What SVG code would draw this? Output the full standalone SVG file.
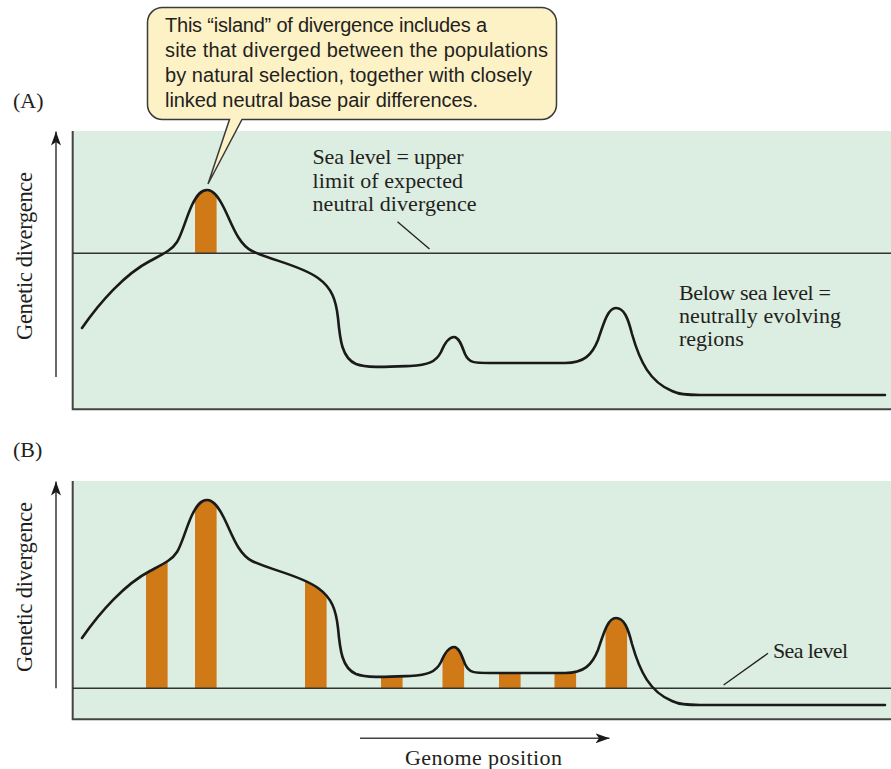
<svg xmlns="http://www.w3.org/2000/svg" width="891" height="769" viewBox="0 0 891 769">
<style>
.bg{fill:#dcede1}
.frame{fill:none;stroke:#444;stroke-width:2}
.sea{stroke:#333;stroke-width:1.5;fill:none}
.curve{fill:none;stroke:#1a1a1a;stroke-width:2.6;stroke-linejoin:round;stroke-linecap:round}
.bar{fill:#cf7a16}
.serif{font-family:"Liberation Serif","Times New Roman",serif;font-size:22px;fill:#231f20}
.sans{font-family:"Liberation Sans",Arial,sans-serif;font-size:20px;fill:#231f20}
.lead{stroke:#231f20;stroke-width:1.3;fill:none}
.axis{stroke:#444;stroke-width:1.6;fill:none}
</style>
<defs>
<marker id="ah" viewBox="0 0 14 10" refX="14" refY="5" markerWidth="14" markerHeight="10" markerUnits="userSpaceOnUse" orient="auto">
<path d="M0,0 L14,5 L0,10 L3.5,5 Z" fill="#1a1a1a"/>
</marker>
<path id="crv" d="M 82,328 C 100,302 125,274 150,261 C 163,254 172,250 177,242 C 182,234 186,218 192,205 C 197,195 201,190 207,190 C 214,190 219,198 224,208 C 232,224 238,244 252,251 C 270,260 300,265 318,278 C 332,288 336,300 338,318 C 340,340 342,358 356,364 C 366,368 385,367 410,366 C 428,365 436,362 441,352 C 446,340 450,337 454,337 C 459,337 462,346 465,354 C 469,363 474,363 490,363 L 565,363 C 584,363 592,355 598,340 C 604,322 608,308 616,308 C 624,308 628,318 632,334 C 640,362 650,382 672,391 C 680,395 690,395 700,395 L 885,395"/>
<clipPath id="underA">
<path d="M 82,328 C 100,302 125,274 150,261 C 163,254 172,250 177,242 C 182,234 186,218 192,205 C 197,195 201,190 207,190 C 214,190 219,198 224,208 C 232,224 238,244 252,251 C 270,260 300,265 318,278 C 332,288 336,300 338,318 C 340,340 342,358 356,364 C 366,368 385,367 410,366 C 428,365 436,362 441,352 C 446,340 450,337 454,337 C 459,337 462,346 465,354 C 469,363 474,363 490,363 L 565,363 C 584,363 592,355 598,340 C 604,322 608,308 616,308 C 624,308 628,318 632,334 C 640,362 650,382 672,391 C 680,395 690,395 700,395 L 885,395 L 885,420 L 82,420 Z"/>
</clipPath>
<clipPath id="underB">
<path transform="translate(0,310)" d="M 82,328 C 100,302 125,274 150,261 C 163,254 172,250 177,242 C 182,234 186,218 192,205 C 197,195 201,190 207,190 C 214,190 219,198 224,208 C 232,224 238,244 252,251 C 270,260 300,265 318,278 C 332,288 336,300 338,318 C 340,340 342,358 356,364 C 366,368 385,367 410,366 C 428,365 436,362 441,352 C 446,340 450,337 454,337 C 459,337 462,346 465,354 C 469,363 474,363 490,363 L 565,363 C 584,363 592,355 598,340 C 604,322 608,308 616,308 C 624,308 628,318 632,334 C 640,362 650,382 672,391 C 680,395 690,395 700,395 L 885,395 L 885,420 L 82,420 Z"/>
</clipPath>
</defs>

<g id="panelA">
<rect class="bg" x="72.7" y="131" width="818.3" height="278.3"/>
<path class="frame" d="M72.7,131 V409.3 H891"/>
<g clip-path="url(#underA)">
<rect class="bar" x="195" y="150" width="21.6" height="103.3"/>
</g>
<line class="sea" x1="72.7" y1="253.3" x2="891" y2="253.3"/>
<use href="#crv" class="curve"/>
<text class="serif" x="13" y="108">(A)</text>
<text class="serif" style="font-size:22.5px" text-anchor="middle" transform="translate(32,256) rotate(-90)" textLength="168" lengthAdjust="spacing">Genetic divergence</text>
<text class="serif" x="312.5" y="164" textLength="151" lengthAdjust="spacing">Sea level = upper</text>
<text class="serif" x="312.5" y="187.5" textLength="150.5" lengthAdjust="spacing">limit of expected</text>
<text class="serif" x="312.5" y="211" textLength="164" lengthAdjust="spacing">neutral divergence</text>
<text class="serif" x="679" y="299.5" textLength="152" lengthAdjust="spacing">Below sea level =</text>
<text class="serif" x="679" y="323" textLength="162" lengthAdjust="spacing">neutrally evolving</text>
<text class="serif" x="679" y="346">regions</text>
</g>

<g id="panelB">
<rect class="bg" x="72.7" y="481" width="818.3" height="238.3"/>
<path class="frame" d="M72.7,481 V719.3 H891"/>
<g clip-path="url(#underB)">
<rect class="bar" x="146" y="450" width="21.6" height="238.3"/>
<rect class="bar" x="195" y="450" width="21.6" height="238.3"/>
<rect class="bar" x="305" y="450" width="21.6" height="238.3"/>
<rect class="bar" x="381" y="450" width="21.6" height="238.3"/>
<rect class="bar" x="442.5" y="450" width="21.6" height="238.3"/>
<rect class="bar" x="499" y="450" width="21.6" height="238.3"/>
<rect class="bar" x="554.5" y="450" width="21.6" height="238.3"/>
<rect class="bar" x="605.5" y="450" width="21.6" height="238.3"/>
</g>
<line class="sea" x1="72.7" y1="688.3" x2="891" y2="688.3"/>
<use href="#crv" class="curve" transform="translate(0,310)"/>
<text class="serif" x="13" y="457">(B)</text>
<text class="serif" style="font-size:22.5px" text-anchor="middle" transform="translate(32,587) rotate(-90)" textLength="170" lengthAdjust="spacing">Genetic divergence</text>
<text class="serif" x="773" y="658" textLength="75" lengthAdjust="spacing">Sea level</text>
<text class="serif" x="483.5" y="765" text-anchor="middle" textLength="157" lengthAdjust="spacing">Genome position</text>
</g>

<g id="callout">
<path d="M 162.5,7.5 H 541.5 A 15 15 0 0 1 556.5 22.5 V 104.5 A 15 15 0 0 1 541.5 119.5 H 242 L 208 184 L 229.5 119.5 H 162.5 A 15 15 0 0 1 147.5 104.5 V 22.5 A 15 15 0 0 1 162.5 7.5 Z" fill="#fdf1c6" stroke="#3a3a3a" stroke-width="1.5"/>
<text class="sans" x="165" y="32" textLength="322" lengthAdjust="spacing">This “island” of divergence includes a</text>
<text class="sans" x="165" y="57" textLength="383" lengthAdjust="spacing">site that diverged between the populations</text>
<text class="sans" x="165" y="82" textLength="367" lengthAdjust="spacing">by natural selection, together with closely</text>
<text class="sans" x="165" y="107" textLength="313" lengthAdjust="spacing">linked neutral base pair differences.</text>
</g>

<g id="connectors">
<line class="axis" x1="56" y1="377" x2="56" y2="131.5" marker-end="url(#ah)"/>
<line class="axis" x1="56" y1="688.3" x2="56" y2="481.5" marker-end="url(#ah)"/>
<line class="axis" x1="360" y1="738.3" x2="609.5" y2="738.3" marker-end="url(#ah)"/>
<line class="lead" x1="397.5" y1="221.7" x2="429.5" y2="249"/>
<line class="lead" x1="723.6" y1="685" x2="768" y2="653.3"/>
</g>
</svg>
